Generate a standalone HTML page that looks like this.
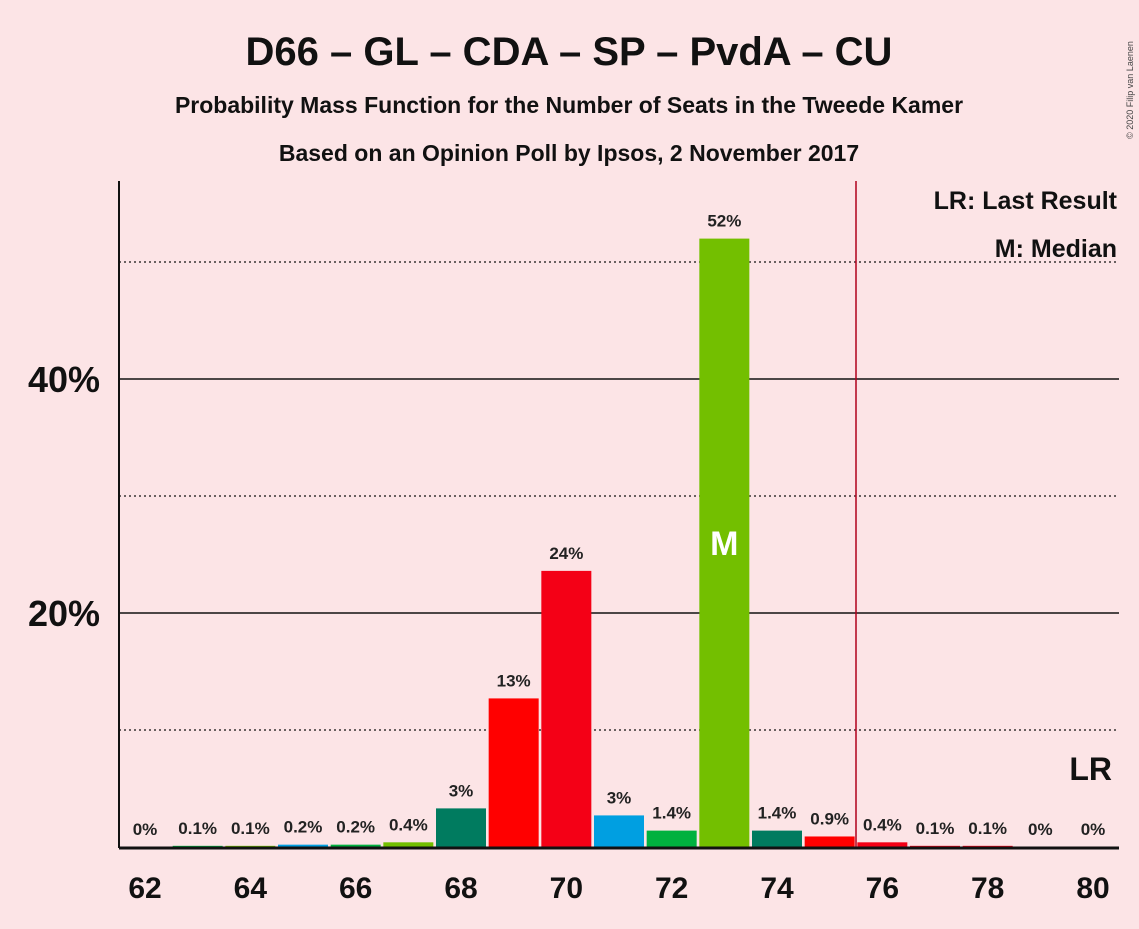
<!DOCTYPE html>
<html><head><meta charset="utf-8"><style>
body{margin:0;background:#fce4e6;}
svg text{font-family:"Liberation Sans",sans-serif;}
</style></head><body>
<svg id="chart" width="1139" height="924" xmlns="http://www.w3.org/2000/svg">
<rect width="1139" height="924" fill="#fce4e6"/>
<text x="569" y="65" text-anchor="middle" font-size="40" font-weight="bold" fill="#111">D66 – GL – CDA – SP – PvdA – CU</text>
<text x="569" y="113" text-anchor="middle" font-size="23" font-weight="bold" fill="#111">Probability Mass Function for the Number of Seats in the Tweede Kamer</text>
<text x="569" y="161" text-anchor="middle" font-size="23" font-weight="bold" fill="#111">Based on an Opinion Poll by Ipsos, 2 November 2017</text>
<text x="1133" y="90" font-size="9" fill="#444" transform="rotate(-90 1133 90)" text-anchor="middle">© 2020 Filip van Laenen</text>
<g id="grid"></g>
<g id="bars"></g>
<g id="axes"></g>
</svg>
<script>
const seats=[62,63,64,65,66,67,68,69,70,71,72,73,74,75,76,77,78,79,80];
const probs=[0,0.1,0.1,0.2,0.2,0.4,3.3,12.7,23.6,2.7,1.4,52.0,1.4,0.9,0.4,0.1,0.1,0,0];
const labels=["0%","0.1%","0.1%","0.2%","0.2%","0.4%","3%","13%","24%","3%","1.4%","52%","1.4%","0.9%","0.4%","0.1%","0.1%","0%","0%"];
const colors=["#007b5f","#00b13f","#73bf00","#009fe1","#00b13f","#73bf00","#007b5f","#ff0000","#f40016","#009fe1","#00b13f","#73bf00","#007b5f","#ff0000","#f40016","#f40016","#f40016","#f40016","#f40016"];
const majorTicks=[20,40];
const minorTicks=[10,30,50];
const xTickSeats=[62,64,66,68,70,72,74,76,78,80];
const lastResult=76;
const medianSeat=73;
const NS="http://www.w3.org/2000/svg";
const x=s=>145+(s-62)*(1093-145)/18;
const y=v=>847-v*11.7;
function mk(tag,attrs,parent,text){const e=document.createElementNS(NS,tag);for(const k in attrs)e.setAttribute(k,attrs[k]);if(text!==undefined)e.textContent=text;parent.appendChild(e);return e;}
const grid=document.getElementById('grid'),bars=document.getElementById('bars'),axes=document.getElementById('axes');
minorTicks.forEach(t=>{const l=mk('line',{x1:119,x2:1119,y1:y(t),y2:y(t),stroke:'#111','stroke-width':1.3,'stroke-dasharray':'2,3'},grid);

});
majorTicks.forEach(t=>{const l=mk('line',{x1:119,x2:1119,y1:y(t),y2:y(t),stroke:'#111','stroke-width':1.5},grid);


const tx=mk('text',{x:100,y:y(t)+13,'text-anchor':'end','font-size':36,'font-weight':'bold',fill:'#111'},axes,t+'%');

});
seats.forEach((s,i)=>{const h=probs[i]*11.7;
const r=mk('rect',{x:x(s)-25,y:847-h,width:50,height:h,fill:colors[i]},bars);


const t=mk('text',{x:x(s),y:847-h-12,'text-anchor':'middle','font-size':17,'font-weight':'bold',fill:'#222'},bars,labels[i]);


if(s===medianSeat){const m=mk('text',{x:x(s),y:y(probs[i]/2)+12,'text-anchor':'middle','font-size':34,'font-weight':'bold',fill:'#fff'},bars,'M');

}});
const lr=mk('line',{x1:x(lastResult-0.5),x2:x(lastResult-0.5),y1:181,y2:847,stroke:'#b0001c','stroke-width':1.5},axes);


const ya=mk('line',{x1:119,x2:119,y1:181,y2:848,stroke:'#111','stroke-width':2},axes);


const xa=mk('line',{x1:119,x2:1119,y1:848,y2:848,stroke:'#111','stroke-width':3},axes);


xTickSeats.forEach(s=>{const t=mk('text',{x:x(s),y:898,'text-anchor':'middle','font-size':30,'font-weight':'bold',fill:'#111'},axes,String(s));

});
const l1=mk('text',{x:1117,y:209,'text-anchor':'end','font-size':25,'font-weight':'bold',fill:'#111'},axes,'LR: Last Result');


const l2=mk('text',{x:1117,y:257,'text-anchor':'end','font-size':25,'font-weight':'bold',fill:'#111'},axes,'M: Median');


const l3=mk('text',{x:1112,y:780,'text-anchor':'end','font-size':32,'font-weight':'bold',fill:'#111'},axes,'LR');


</script>
</body></html>
